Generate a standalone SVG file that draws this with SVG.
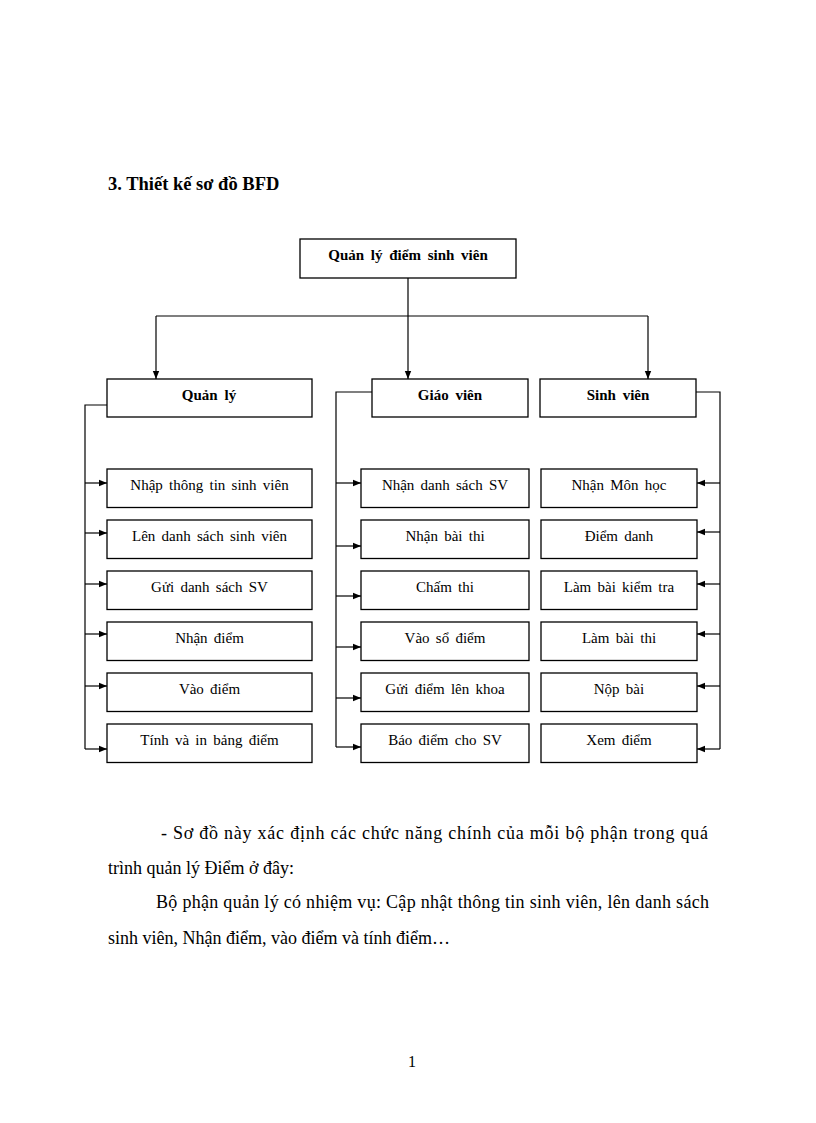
<svg xmlns="http://www.w3.org/2000/svg" width="816" height="1123" viewBox="0 0 816 1123">
<defs>
<marker id="arr" viewBox="0 0 10 10" refX="10" refY="5" markerWidth="8" markerHeight="8" markerUnits="userSpaceOnUse" orient="auto">
<path d="M0,1 L10,5 L0,9 Z" fill="#000"/>
</marker>
</defs>
<style>
.box{fill:#fff;stroke:#000;stroke-width:1.3}
.t{font-family:"Liberation Serif","Times New Roman",serif;font-size:15px;fill:#000;text-anchor:middle;word-spacing:2.5px}
.b{font-weight:bold;font-size:15px;word-spacing:3px}
.ln{fill:none;stroke:#000;stroke-width:1.2}
.body{font-family:"Liberation Serif","Times New Roman",serif;font-size:18px;fill:#000}
</style>
<rect width="816" height="1123" fill="#fff"/>
<text x="108" y="190" class="body" style="font-weight:bold;font-size:18.5px">3. Thiết kế sơ đồ BFD</text>

<g id="connectors">
<path class="ln" d="M408,278 V316 M156,316 H648"/>
<path class="ln" d="M156,316 V379" marker-end="url(#arr)"/>
<path class="ln" d="M408,316 V379" marker-end="url(#arr)"/>
<path class="ln" d="M648,316 V379" marker-end="url(#arr)"/>
<path class="ln" d="M107,405 H85 V749"/>
<path class="ln" d="M85,483 H107" marker-end="url(#arr)"/>
<path class="ln" d="M85,533 H107" marker-end="url(#arr)"/>
<path class="ln" d="M85,584 H107" marker-end="url(#arr)"/>
<path class="ln" d="M85,634 H107" marker-end="url(#arr)"/>
<path class="ln" d="M85,686 H107" marker-end="url(#arr)"/>
<path class="ln" d="M85,749 H107" marker-end="url(#arr)"/>
<path class="ln" d="M372,392 H336 V747"/>
<path class="ln" d="M336,483 H361" marker-end="url(#arr)"/>
<path class="ln" d="M336,546 H361" marker-end="url(#arr)"/>
<path class="ln" d="M336,596 H361" marker-end="url(#arr)"/>
<path class="ln" d="M336,647 H361" marker-end="url(#arr)"/>
<path class="ln" d="M336,698 H361" marker-end="url(#arr)"/>
<path class="ln" d="M336,747 H361" marker-end="url(#arr)"/>
<path class="ln" d="M696,392 H720 V749"/>
<path class="ln" d="M720,483 H697" marker-end="url(#arr)"/>
<path class="ln" d="M720,532 H697" marker-end="url(#arr)"/>
<path class="ln" d="M720,584 H697" marker-end="url(#arr)"/>
<path class="ln" d="M720,634 H697" marker-end="url(#arr)"/>
<path class="ln" d="M720,686 H697" marker-end="url(#arr)"/>
<path class="ln" d="M720,749 H697" marker-end="url(#arr)"/>
</g>

<g id="root"><rect class="box" x="300" y="239" width="216" height="39"/><text class="t b" x="408" y="260">Quản lý điểm sinh viên</text></g>
<g id="quanly"><rect class="box" x="107" y="379" width="205" height="38"/><text class="t b" x="209" y="400">Quản lý</text></g>
<g id="giaovien"><rect class="box" x="372" y="379" width="156" height="38"/><text class="t b" x="450" y="400">Giáo viên</text></g>
<g id="sinhvien"><rect class="box" x="540" y="379" width="156" height="38"/><text class="t b" x="618" y="400">Sinh viên</text></g>

<g id="ql1"><rect class="box" x="107" y="469" width="205" height="38.5"/><text class="t" x="209.5" y="490">Nhập thông tin sinh viên</text></g>
<g id="ql2"><rect class="box" x="107" y="520" width="205" height="38.5"/><text class="t" x="209.5" y="541">Lên danh sách sinh viên</text></g>
<g id="ql3"><rect class="box" x="107" y="571" width="205" height="38.5"/><text class="t" x="209.5" y="592">Gửi danh sách SV</text></g>
<g id="ql4"><rect class="box" x="107" y="622" width="205" height="38.5"/><text class="t" x="209.5" y="643">Nhận điểm</text></g>
<g id="ql5"><rect class="box" x="107" y="673" width="205" height="38.5"/><text class="t" x="209.5" y="694">Vào điểm</text></g>
<g id="ql6"><rect class="box" x="107" y="724" width="205" height="38.5"/><text class="t" x="209.5" y="745">Tính và in bảng điểm</text></g>

<g id="gv1"><rect class="box" x="361" y="469" width="168" height="38.5"/><text class="t" x="445" y="490">Nhận danh sách SV</text></g>
<g id="gv2"><rect class="box" x="361" y="520" width="168" height="38.5"/><text class="t" x="445" y="541">Nhận bài thi</text></g>
<g id="gv3"><rect class="box" x="361" y="571" width="168" height="38.5"/><text class="t" x="445" y="592">Chấm thi</text></g>
<g id="gv4"><rect class="box" x="361" y="622" width="168" height="38.5"/><text class="t" x="445" y="643">Vào sổ điểm</text></g>
<g id="gv5"><rect class="box" x="361" y="673" width="168" height="38.5"/><text class="t" x="445" y="694">Gửi điểm lên khoa</text></g>
<g id="gv6"><rect class="box" x="361" y="724" width="168" height="38.5"/><text class="t" x="445" y="745">Báo điểm cho SV</text></g>

<g id="sv1"><rect class="box" x="541" y="469" width="156" height="38.5"/><text class="t" x="619" y="490">Nhận Môn học</text></g>
<g id="sv2"><rect class="box" x="541" y="520" width="156" height="38.5"/><text class="t" x="619" y="541">Điểm danh</text></g>
<g id="sv3"><rect class="box" x="541" y="571" width="156" height="38.5"/><text class="t" x="619" y="592">Làm bài kiểm tra</text></g>
<g id="sv4"><rect class="box" x="541" y="622" width="156" height="38.5"/><text class="t" x="619" y="643">Làm bài thi</text></g>
<g id="sv5"><rect class="box" x="541" y="673" width="156" height="38.5"/><text class="t" x="619" y="694">Nộp bài</text></g>
<g id="sv6"><rect class="box" x="541" y="724" width="156" height="38.5"/><text class="t" x="619" y="745">Xem điểm</text></g>

<text class="body" x="161" y="839" textLength="547" lengthAdjust="spacing">- Sơ đồ này xác định các chức năng chính của mỗi bộ phận trong quá</text>
<text class="body" x="108" y="874">trình quản lý Điểm ở đây:</text>
<text class="body" x="156" y="908" textLength="553" lengthAdjust="spacing">Bộ phận quản lý có nhiệm vụ: Cập nhật thông tin sinh viên, lên danh sách</text>
<text class="body" x="108" y="944">sinh viên, Nhận điểm, vào điểm và tính điểm…</text>
<text class="body" x="412" y="1067" style="font-size:16px;text-anchor:middle">1</text>
</svg>
